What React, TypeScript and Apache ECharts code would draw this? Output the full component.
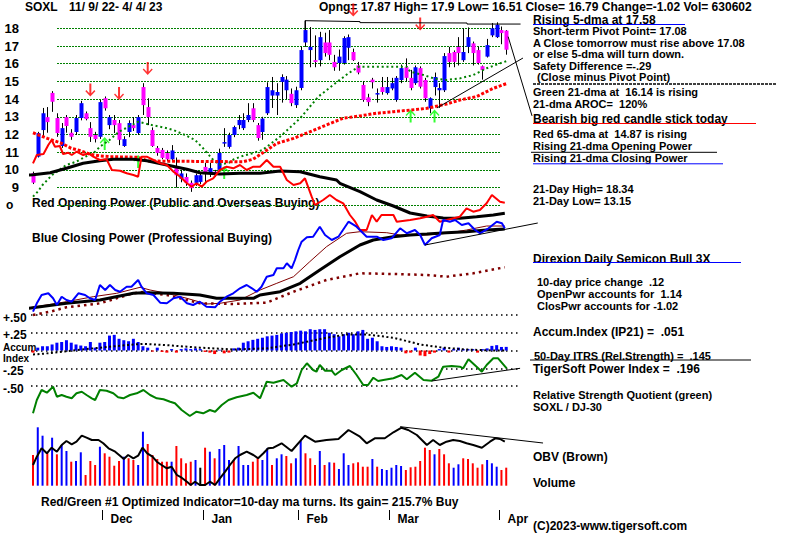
import React, { useEffect, useRef } from "react";
import * as echarts from "echarts";

const FONT = '"Liberation Sans", Arial, Helvetica, sans-serif';

// ---------- price candles (day index 0..99 = 11/9/22 .. 4/4/23) ----------
const openP = [9.82,10.75,12.25,12.98,14.35,12.93,11.35,12.98,12.1,12.14, 12.93,13.2,12.36,11.97,11.87,14.05,12.53,12.82,12.64,11.35, 12.14,12.53,12.08,14.68,13.55,12.25,11.24,11.13,10.95,10.6, 10.17,9.5,9.6,9.27,9.27,9.32,10.17,9.88,9.9,10.0, 11.5,11.3,11.97,12.53,12.36,12.82,13.48,12.53,12.14,13.2, 14.2,14.2,14.97,14.5,14.3,13.66,14.63,17.2,16.77,16.2, 16.2,17.2,17.2,16.1,16.04,16.04,16.9,16.66,15.9,14.8, 14.1,15.1,14.3,14.68,14.34,14.6,13.95,15.08,15.8,15.2, 14.9,15.75,15.08,13.48,14.68,14.5,14.5,16.6,16.66,16.95, 16.2,16.95,17.15,16.77,15.86,16.4,17.6,17.5,17.9,17.87];
const closeP = [9.28,12.08,13.2,12.7,13.85,12.08,12.36,12.48,11.87,12.93, 13.77,12.87,11.87,11.74,13.83,13.48,12.98,12.53,11.7,11.74, 12.65,12.36,12.98,13.66,12.98,11.35,10.96,10.68,10.6,11.1, 9.7,9.8,9.27,8.97,9.7,9.7,9.82,10.1,9.75,10.96, 11.57,11.97,12.42,12.82,12.82,13.1,12.82,11.8,12.9,14.68, 14.5,14.4,15.25,15.1,13.77,14.5,16.77,17.9,16.95,16.1, 17.5,16.6,16.5,15.8,16.4,17.45,17.5,16.2,15.5,13.95, 13.83,14.95,14.34,14.4,14.68,14.9,15.2,15.75,15.2,14.63, 15.8,14.7,14.05,14.05,15.25,14.63,16.43,16.1,16.1,16.6, 16.66,17.5,16.6,16.04,15.64,17.05,18.0,18.2,17.73,16.79];
const highP = [9.9,12.15,13.5,13.55,14.45,13.2,12.65,13.1,12.3,13.1, 13.9,13.3,12.7,12.15,13.95,14.15,13.1,13.1,12.82,11.9, 12.8,12.98,13.1,14.9,14.05,12.4,11.35,11.24,11.1,11.4, 10.7,10.0,9.8,9.4,9.8,9.85,10.4,10.4,10.0,11.2, 12.36,12.1,12.5,13.1,13.2,13.77,13.77,12.65,13.0,14.95, 15.25,14.9,15.4,15.3,14.6,14.7,16.95,18.43,18.07,17.6, 17.8,17.75,17.9,16.5,16.8,17.55,17.65,16.85,16.1,15.0, 14.3,15.2,14.6,15.25,15.25,15.2,15.3,15.95,16.3,15.65, 15.9,15.85,15.2,14.1,15.5,14.9,16.6,16.95,16.75,17.5, 18.0,18.05,17.25,16.95,15.9,17.4,18.3,18.34,18.1,17.9];
const lowP = [9.2,10.7,11.85,12.1,13.28,11.87,11.24,12.1,11.7,11.97, 12.8,12.8,11.58,11.55,11.75,13.35,12.3,12.08,11.4,11.3, 11.85,12.2,11.97,13.1,12.53,11.3,10.8,10.6,10.5,10.5, 9.0,9.3,9.1,8.76,9.1,9.2,9.3,9.6,9.6,9.9, 11.3,11.2,11.85,12.3,12.25,12.7,12.7,11.65,11.7,13.1, 13.5,13.1,13.8,14.0,13.6,13.5,14.5,16.95,15.8,15.8, 15.85,16.4,16.2,15.6,15.6,15.95,16.2,16.15,15.4,13.85, 13.6,14.6,13.8,14.25,14.25,14.5,13.85,14.9,15.0,14.5, 14.8,14.6,13.85,13.2,14.2,13.5,14.4,15.8,15.8,15.9, 16.1,16.6,15.9,15.95,15.1,16.35,17.5,17.45,17.1,16.51];

// ---------- moving averages on price: [day, price] ----------
const ma21 = [[0,8.49],[1,8.77],[2,9.15],[3,9.43],[4,9.71],[5,9.9],[7,10.28],[9,10.46],[11,10.75],[13,11.03],[14,11.31],[16,11.69],[18,12.16],[20,12.44],[22,12.72],[24.9,12.53],[27.3,12.4],[29.4,12.25],[31.8,11.97],[33.9,11.69],[35.6,11.22],[37.7,10.56],[39,10.3],[41,10.4],[42,10.6],[44,10.8],[46,10.95],[48,11.12],[51.7,11.88],[55.9,12.92],[59.7,14.14],[62.8,14.8],[66,15.46],[68.2,15.83],[78.2,15.83],[78.9,15.55],[81.7,15.36],[83.8,15.17],[86.5,15.08],[89.3,15.17],[92.1,15.36],[94.9,15.74],[97.7,16.02],[99,16.14]];
const ma65 = [[0,12.1],[3,11.78],[6,11.5],[8,11.22],[10,11.08],[12,10.88],[14,10.79],[16,10.75],[22,10.71],[24,10.5],[44,10.46],[46,10.6],[48,10.95],[51,11.5],[54.5,11.78],[58,12.16],[61.4,12.54],[64.9,12.92],[68.4,13.05],[71.9,13.2],[75.4,13.29],[78.9,13.38],[82.4,13.48],[86.5,13.72],[89.3,13.95],[92.8,14.14],[96.3,14.61],[99,14.87]];
const redArrows = [[12,14.51],[18,14.32],[24,15.73],[67,19.03],[81,18.24]];
const greenArrows = [[15,11.49],[22,10.47],[40,9.85],[79,13.04],[84,13.04]];
const priceTrend = [[84.5,13.5],[102.5,16.32]];
const pointerLine = [[99.4,17.53],[104.4,13.05]];
const resistance = [[56.9,17.9],[56.9,18.43],[68.4,18.38],[68.4,18.32],[90.8,18.3],[90.8,18.24],[102,18.24]];

// ---------- opening / closing power (index units) ----------
const opPower = [[0,156.7],[0.8,165],[2.2,166],[3.2,175],[3.9,180],[4.6,173.3],[5.6,174],[6.3,166],[7.4,167.3],[8.1,165],[9.1,168.3],[10.5,165],[11.6,166.7],[12.6,163.3],[14,160],[15.4,160.7],[16.5,150],[18.2,149.3],[19.6,146.7],[21,145],[22,143.3],[22.7,163.3],[23.8,163.3],[25.2,160],[26.6,156.7],[28,155],[29.4,148.3],[30.8,143.3],[32.2,136.7],[33.2,133.3],[34.2,136.7],[35.3,133.3],[36.3,138.3],[37.7,141.7],[39.1,150],[40.5,153.3],[41.9,151.7],[43.3,155],[44.7,150],[46.1,153.3],[47.5,153.3],[48.9,160],[50.3,153.3],[51.7,153.3],[53.1,140],[54.5,135],[55.9,136.7],[56.9,141.7],[58.3,123.3],[59,115],[60.7,120],[62.1,125],[63.5,120],[64.9,116.7],[66.3,105],[67.4,98.3],[68.4,90],[69.8,90],[70.9,105],[71.9,98.3],[72.9,105],[75.4,105],[76.1,98.3],[78.9,100],[81,101.7],[82.4,103.3],[83.7,105],[85.1,98.3],[86.5,100],[89.3,103.3],[90.7,111.7],[92.1,108.3],[93.5,110],[94.9,116.7],[96,125],[97.7,118.3],[98.7,117.3]];
const opPowerMa = [[-1,145],[0,145.3],[3.6,147.3],[7,151.7],[10.5,156.7],[14,159.3],[16.8,160.7],[21,160.7],[23.8,159.3],[28,155],[32.2,150.7],[34.9,147.3],[39.1,146],[43.3,146.7],[47.5,146.7],[51.7,149],[55.9,148.3],[60,143.3],[63.5,140],[64.2,136.7],[68.4,128.3],[71.9,120],[75.4,114],[78.9,107],[82.4,104],[85.8,102],[89.3,101.7],[92.8,103.3],[96.3,105],[98.7,106.7]];
const clPower = [[0,8.3],[0.8,16.7],[1.8,25],[3.2,26.7],[4.2,21.7],[5,15],[6,23.3],[7,20],[8.1,18.3],[9.5,26.7],[10.9,25],[11.9,21.7],[13,20],[14,35],[15.1,30],[16.1,35],[17.2,30],[18.2,28.3],[19.6,33.3],[20.6,33.3],[22,40],[22.7,33.3],[23.8,26.7],[25.2,25],[26.6,17.3],[28,16.7],[29.4,21.7],[30.8,23.3],[32.2,16.7],[33.5,15],[34.9,18.3],[36.3,13.3],[38.1,12.7],[39.1,18.3],[40.5,23.3],[41.9,26.7],[43.3,31.7],[44.7,35],[45.8,31.7],[46.8,28.3],[47.8,33.3],[48.9,43.3],[50.3,45],[51,51.7],[52.4,51.7],[53.1,56.7],[54.1,51.7],[54.8,60],[55.5,70],[56.2,78.3],[57.3,82.7],[58.6,83.3],[60,93.3],[61.1,85],[62.5,80],[63.9,83.3],[66,98.3],[67.7,93.3],[69.8,83.3],[71.9,83.3],[73.3,80],[75,81.7],[76.8,91.7],[78.2,86.7],[79.9,90],[81,85],[82,75],[83.4,81.7],[85.1,85],[85.8,100],[87.2,98.3],[88.3,100],[89.7,95],[91.1,96.7],[92.5,90],[93.5,86.7],[95.3,91.7],[97,98.3],[98.1,96.7],[98.7,91.7]];
const clPowerMa65 = [[-1,11.7],[7,16.7],[14,20],[21,26.7],[23.1,27.3],[29.4,26.7],[34.9,25],[38.4,21.7],[41.9,21.7],[46.1,21.7],[47.5,25],[51.7,28.3],[55.9,36.7],[60,50],[64.2,63.3],[68.4,75],[71.2,80],[75.4,83.3],[78.9,85],[82.4,86],[86.5,87.3],[90.7,88.3],[94.9,90],[98.7,91]];
const clPowerMa21 = [[-1,12],[7,18.3],[12.6,23.3],[17.5,26.7],[22.4,32.7],[24.5,30],[28,26.7],[32.2,21.7],[36.3,16],[39.1,16.7],[43.3,20],[47.5,30],[51,36.7],[54.5,43.3],[57.9,58.3],[61.4,73.3],[65.6,86.7],[68.4,88.3],[74,87.3],[76.8,85],[82.4,85],[86.5,86.7],[90.7,90],[94.9,94],[98.7,94]];
const clPowerLong = [[0,5],[3.6,8.3],[7,12.7],[14,16.7],[21,26.7],[23.1,28],[28,25],[32.2,20],[34.9,16.7],[41.9,16],[48.9,17.3],[54.5,28.3],[61.4,40],[68.4,46.7],[75.4,46],[82.4,45],[86.5,43.3],[92.1,46.7],[98.7,52.7]];
const powerTrend = [[82,75],[105.6,97]];

// ---------- accumulation index (IP21) ----------
const accum = [-0.03,0.04,0.06,0.06,0.085,0.11,0.12,0.145,0.11,0.085, 0.07,0.06,0.12,0.04,0.11,0.12,0.21,0.22,0.165,0.145, 0.13,0.165,0.12,0.06,0.04,-0.015,0.04,-0.02,-0.03,0.02, -0.03,0.02,0.03,0.02,0.03,0.02,-0.02,-0.03,-0.05,0.01, -0.04,-0.03,0.03,0.04,0.11,0.13,0.15,0.165,0.18,0.2, 0.21,0.22,0.24,0.25,0.26,0.27,0.28,0.27,0.3,0.29, 0.3,0.3,0.25,0.23,0.2,0.23,0.25,0.23,0.27,0.29, 0.165,0.18,0.13,0.06,0.05,0.06,0.05,0.04,-0.04,-0.03, 0.04,-0.07,-0.08,-0.05,-0.03,0.02,0.04,-0.03,0.02,0.04, 0.02,0.02,0.02,-0.03,0.02,0.03,0.065,0.075,0.05,0.051];
const accumMa = [[0,-0.056],[1.5,-0.05],[7,-0.01],[14,0.04],[21,0.085],[23.1,0.094],[28,0.075],[34.9,0.04],[41.9,0.014],[48.9,0.03],[54.5,0.085],[61.4,0.18],[65.6,0.225],[69.8,0.225],[75.4,0.18],[81,0.085],[85.8,0.04],[90.7,0.014],[96.3,0],[99.1,0]];
const accumTicks: Record<string, string> = { "50": "+.50", "25": "+.25", "0": "{s|Accum}\n{s|Index}", "-25": "-.25", "-50": "-.50" };

// ---------- relative strength quotient ----------
const rsq = [[0,6.7],[0.8,20],[1.8,30],[2.9,27.3],[4.2,33.3],[5,23.3],[6,25],[7,23.3],[8.1,21.7],[9.1,26.7],[10.2,28.3],[11.2,25],[12.3,21.7],[13,20],[14,30],[15.4,29.3],[16.8,26.7],[17.8,22.7],[18.9,21.7],[20.3,25],[21.7,26.7],[23.1,30],[24.5,25],[25.9,21.7],[27.3,20.7],[28.7,18.3],[29.7,16.7],[31.1,10],[32.8,4],[34.2,8.3],[35.6,6.7],[37,10],[38.1,8.3],[39.5,15],[40.9,20],[42.6,22.7],[44.7,25],[46.1,27.3],[47.5,21.7],[48.9,38.3],[50.3,37.3],[52.4,40],[54.1,33.3],[55.2,36.7],[56.2,50],[57.3,56.7],[58.6,50],[59.3,48.3],[60,55],[61.1,49.3],[62.5,49.3],[63.2,45],[64.6,50],[66.3,54],[67.7,45],[69.1,35],[70.1,35],[71.2,42.3],[72.2,39],[73.3,40],[75.4,41.7],[77.1,45],[78.2,40.7],[79.9,47.3],[81.7,40],[83.4,39.3],[84.8,43.3],[85.8,53.3],[87.6,54],[89.3,53.3],[90,51.7],[91.1,60.7],[92.8,53.3],[93.9,48.3],[94.9,55],[96.3,61.7],[97.3,61.7],[99.1,51.7]];
const rsqTrend = [[83.4,39],[101.9,51.7]];

// ---------- volume (thousands) and OBV ----------
const volume = [1075,2044,1750,1134,1680,1099,1425,1215,840,865, 1169,375,865,725,1365,1134,1015,700,865,1015, 959,900,725,1890,1460,1075,935,840,840,840, 1390,959,784,840,900,630,1330,1190,959,1285, 1425,900,900,1390,725,725,840,980,900,1309, 725,959,1099,1040,784,959,1565,1134,959,725, 1215,725,819,805,585,1134,725,784,819,665, 665,935,665,585,550,630,725,690,550,644, 665,865,1330,1250,1099,1285,1099,784,630,749, 959,935,784,630,749,900,784,665,550,631];
const volDir = "RBBRBRBBRBBRRRBRRRRBRRBBRRRRRBRRRRBKRBRBBBRBBBRRBBRBBRRBBRRRBRBRBBBRRRRBRBBBBBRRRRRRBRRRBBRRRRRBBBRR";
const obv = [[0,25],[0.8,33.3],[1.8,41.7],[2.9,36.7],[3.9,42.3],[5,38.3],[6,45],[7,49],[8.1,45.7],[9.1,48.3],[10.2,54.3],[11.2,52.3],[12.3,50],[13.7,50],[14.7,46.7],[15.8,41.7],[17.2,38.3],[18.2,34.3],[19,31],[19.9,35],[21,31.7],[22,34.3],[22.9,42.3],[23.9,36.7],[25,33.3],[25.9,28.3],[26.9,25],[28,21.7],[29,23.3],[30.1,15],[31.1,12.3],[32.2,8.3],[33,5],[33.9,8.3],[34.9,5],[36,5],[37,8.3],[38.1,5],[39.1,11.7],[40.2,18.3],[41.2,25],[42.3,31.7],[43.3,35],[44.7,38.3],[46.1,35],[47.1,31.7],[48.2,36.7],[49.2,41.7],[50.3,42.3],[52,46.7],[54.1,39],[56.9,54.3],[59,48.3],[61.4,50],[63.9,51],[66,60],[68.4,53.3],[69.8,46.7],[71.5,51.7],[73.6,51.7],[75.4,57.7],[77.1,62.3],[78.5,60],[80.3,55],[82.4,45],[83.7,50],[85.1,45],[86.5,48.3],[87.9,50],[89.3,49],[90.7,46.7],[92.1,45],[93.9,42.3],[95.6,48.3],[96.7,51.7],[97.7,51],[98.7,48.3]];
const obvTrend = [[76.8,63.3],[106.7,47]];

// ---------- months ----------
const monthLabels = ["Dec", "Jan", "Feb", "Mar", "Apr"];
const monthStartIdx = [15, 36, 56, 75, 98];

// ---------- right-hand / caption texts: [x, y, text, fontSize] ----------
const texts: [number, number, string, number][] = [
  [25, 7, "SOXL", 12],
  [69, 7, "11/ 9/ 22- 4/ 4/ 23", 12],
  [319, 7, "Opng= 17.87 High= 17.9 Low= 16.51 Close= 16.79 Change=-1.02 Vol= 630602", 12],
  [533, 19.5, "Rising 5-dma at 17.58", 12],
  [533, 31, "Short-term Pivot Point= 17.08", 11],
  [533, 42.5, "A Close tomorrow must rise above 17.08", 11],
  [533, 54, "or else 5-dma will turn down.", 11],
  [533, 65.5, "Safety Difference =-.29", 11],
  [537, 77, "(Close minus Pivot Point)", 11],
  [533, 91.5, "Green 21-dma at  16.14 is rising", 11],
  [533, 103.5, "21-dma AROC=  120%", 11],
  [533, 119, "Bearish big red candle stick today", 12],
  [533, 133.5, "Red 65-dma at  14.87 is rising", 11],
  [533, 145.5, "Rising 21-dma Opening Power", 11],
  [533, 157.5, "Rising 21-dma Closing Power", 11],
  [533, 188.5, "21-Day High= 18.34", 11],
  [533, 200.5, "21-Day Low= 13.15", 11],
  [533, 258.5, "Direxion Daily Semicon Bull 3X", 12],
  [537, 282, "10-day price change  .12", 11],
  [537, 294, "OpenPwr accounts for  1.14", 11],
  [537, 306, "ClosPwr accounts for -1.02", 11],
  [533, 331.5, "Accum.Index (IP21) =  .051", 12],
  [534, 355.5, "50-Day ITRS (Rel.Strength) =  .145", 11],
  [533, 368.5, "TigerSoft Power Index =  .196", 12],
  [533, 394.5, "Relative Strength Quotient (green)", 11],
  [533, 407, "SOXL / DJ-30", 11],
  [533, 457, "OBV (Brown)", 12],
  [533, 483, "Volume", 12],
  [533, 526, "(C)2023-www.tigersoft.com", 12],
  [32, 203, "Red Opening Power (Public and Overseas Buying)", 12],
  [32, 238, "Blue Closing Power (Professional Buying)", 12],
  [41, 502, "Red/Green #1 Optimized Indicator=10-day ma turns. Its gain= 215.7% Buy", 12],
  [6, 205, "o", 12],
];
const underlines: [number, number, number, string][] = [
  [533, 685, 24.5, "#0000ff"],
  [533, 756, 123.5, "#ff0000"],
  [531, 717, 152.3, "#000000"],
  [533, 723, 163.8, "#0000ff"],
  [533, 741, 262.5, "#0000ff"],
  [530, 751, 360, "#000000"],
];
const separator = { x1: 533, x2: 777, y: 84 };

const DOWN_ARROW = "path://M4,0L6,0L6,9L9,6L10,7L5,12L0,7L1,6L4,9Z";
const UP_ARROW = "path://M4,12L6,12L6,3L9,6L10,5L5,0L0,5L1,6L4,3Z";

function lineSeries(data: number[][], g: number, color: string, width: number, type: any = "solid", extra: any = {}) {
  return {
    type: "line",
    xAxisIndex: g,
    yAxisIndex: g,
    data,
    symbol: "none",
    showSymbol: false,
    silent: true,
    clip: false,
    lineStyle: { color, width, type },
    ...extra,
  };
}

function buildOption(): any {
  const XMIN = -0.5, XMAX = 110.5;
  const L = 30.6, W = 530.6;
  const grids = [
    { left: L, top: 28.3, width: W, height: 177 }, // 0 price
    { left: 57, top: 28.3, width: 443, height: 177 }, // 1 price grid lines
    { left: L, top: 130, width: W, height: 190 }, // 2 power
    { left: L, top: 315, width: W, height: 71 }, // 3 accum
    { left: 30, top: 315, width: 488, height: 71 }, // 4 accum grid lines
    { left: L, top: 350, width: W, height: 70 }, // 5 rsq
    { left: L, top: 425, width: W, height: 60.7 }, // 6 volume
    { left: L, top: 420, width: W, height: 70 }, // 7 obv
    { left: L, top: 510, width: W, height: 10 }, // 8 months
  ];
  const xAxis = grids.map((_, g) => ({ type: "value", gridIndex: g, min: XMIN, max: XMAX, show: false }));
  const hiddenY = (g: number, min: number, max: number) => ({ type: "value", gridIndex: g, min, max, show: false });
  const yAxis = [
    hiddenY(0, 8, 18),
    {
      type: "value", gridIndex: 1, min: 8, max: 18, interval: 1,
      axisLine: { show: false }, axisTick: { show: false },
      splitLine: { show: true, lineStyle: { color: "#008000", width: 1, type: [2, 1] } },
      axisLabel: {
        show: true, margin: 38, color: "#000", fontSize: 13, fontWeight: "bold", fontFamily: FONT,
        padding: [5, 0, 0, 0], formatter: (v: number) => (v === 8 ? "" : String(v)),
      },
    },
    hiddenY(2, 0, 190),
    hiddenY(3, -0.5, 0.5),
    {
      type: "value", gridIndex: 4, min: -0.5, max: 0.5, interval: 0.25,
      axisLine: { show: false }, axisTick: { show: false },
      splitLine: { show: true, lineStyle: { color: "#000", width: 1.5, type: [1.5, 3.5] } },
      axisLabel: {
        show: true, margin: 28, align: "left", color: "#000", fontSize: 12, fontWeight: "bold", fontFamily: FONT,
        padding: [5, 0, 0, 0],
        formatter: (v: number) => accumTicks[String(Math.round(v * 100))] ?? "",
        rich: { s: { fontSize: 10, fontWeight: "bold", fontFamily: FONT, lineHeight: 11.5, color: "#000" } },
      },
    },
    hiddenY(5, 0, 70),
    hiddenY(6, 0, 2124.5),
    hiddenY(7, 0, 70),
    hiddenY(8, 0, 1),
  ];

  const candles = openP.map((o, i) => [i, o, closeP[i], lowP[i], highP[i]]);

  const series: any[] = [
    {
      type: "custom", xAxisIndex: 0, yAxisIndex: 0, silent: true, data: candles,
      encode: { x: 0, y: [1, 2, 3, 4] },
      renderItem: (params: any, api: any) => {
        const i = api.value(0), o = api.value(1), c = api.value(2), l = api.value(3), h = api.value(4);
        const pH = api.coord([i, h]), pL = api.coord([i, l]);
        const pO = api.coord([i, o]), pC = api.coord([i, c]);
        const top = Math.min(pO[1], pC[1]);
        const bot = Math.max(pO[1], pC[1]);
        const x = Math.round(pH[0]) + 0.5;
        return {
          type: "group",
          children: [
            { type: "line", shape: { x1: x, y1: pH[1], x2: x, y2: pL[1] }, style: { stroke: "#000", lineWidth: 1 } },
            { type: "rect", shape: { x: x - 2, y: top, width: 4, height: Math.max(bot - top, 1.5) }, style: { fill: c >= o ? "#0000ff" : "#ff00ff" } },
          ],
        };
      },
    },
    lineSeries(ma21, 0, "#008000", 2, [2, 2.8]),
    lineSeries(ma65, 0, "#ff0000", 3, [3, 1.8]),
    lineSeries(priceTrend, 0, "#000", 1),
    lineSeries(pointerLine, 0, "#000", 1),
    lineSeries(resistance, 0, "#000", 1),
    { type: "scatter", xAxisIndex: 0, yAxisIndex: 0, data: redArrows, symbol: DOWN_ARROW, symbolSize: [10, 13], itemStyle: { color: "#ff0000" }, silent: true, clip: false },
    { type: "scatter", xAxisIndex: 0, yAxisIndex: 0, data: greenArrows, symbol: UP_ARROW, symbolSize: [10, 13], itemStyle: { color: "#00ff00" }, silent: true, clip: false },

    lineSeries(clPowerLong, 2, "#800000", 2.5, [2.5, 4]),
    lineSeries(clPowerMa21, 2, "#800000", 1),
    lineSeries(clPowerMa65, 2, "#000", 3),
    lineSeries(opPowerMa, 2, "#000", 3),
    lineSeries(opPower, 2, "#ff0000", 2),
    lineSeries(clPower, 2, "#0000ff", 2),
    lineSeries(powerTrend, 2, "#000", 1),

    {
      type: "bar", xAxisIndex: 3, yAxisIndex: 3, silent: true, barWidth: 3,
      data: accum.map((v, i) => [i, v]),
      itemStyle: { color: (p: any) => (p.value[1] >= 0 ? "#0000ff" : "#ff0000") },
    },
    lineSeries(accumMa, 3, "#000", 2, [2, 2.5]),

    lineSeries(rsq, 5, "#008000", 2),
    lineSeries(rsqTrend, 5, "#000", 1),

    {
      type: "bar", xAxisIndex: 6, yAxisIndex: 6, silent: true, barWidth: 2,
      data: volume.map((v, i) => [i, v]),
      itemStyle: {
        color: (p: any) => {
          const d = volDir[p.dataIndex];
          return d === "B" ? "#0000ff" : d === "R" ? "#ff0000" : "#000000";
        },
      },
    },
    lineSeries(obv, 7, "#000", 2),
    lineSeries(obvTrend, 7, "#000", 1),

    {
      type: "custom", xAxisIndex: 8, yAxisIndex: 8, silent: true,
      data: monthStartIdx.map((d, k) => [d, k]),
      renderItem: (params: any, api: any) => {
        const d = api.value(0), k = api.value(1);
        const pT = api.coord([d - 0.5, 1]);
        const pB = api.coord([d - 0.5, 0]);
        const x = Math.round(pT[0]) + 0.5;
        return {
          type: "group",
          children: [
            { type: "line", shape: { x1: x, y1: pT[1], x2: x, y2: pB[1] }, style: { stroke: "#000", lineWidth: 1 } },
            {
              type: "text", x: x + 8, y: pT[1] + 9,
              style: { text: monthLabels[k], fill: "#000", fontSize: 12, fontWeight: "bold", fontFamily: FONT, verticalAlign: "middle", align: "left", lineHeight: 9 },
            },
          ],
        };
      },
    },
  ];

  const graphic: any[] = [
    ...texts.map(([x, y, text, size]) => ({
      type: "text", x, y, silent: true,
      style: { text, fill: "#000", fontSize: size, fontWeight: "bold", fontFamily: FONT, verticalAlign: "middle", align: "left", lineHeight: size - 2 },
    })),
    ...underlines.map(([x1, x2, y, color]) => ({
      type: "line", silent: true, shape: { x1, y1: y, x2, y2: y }, style: { stroke: color, lineWidth: 1 },
    })),
    {
      type: "line", silent: true,
      shape: { x1: separator.x1, y1: separator.y, x2: separator.x2, y2: separator.y },
      style: { stroke: "#000", lineWidth: 1.5, lineDash: [3, 1] },
    },
  ];

  return {
    animation: false,
    backgroundColor: "#ffffff",
    grid: grids,
    xAxis,
    yAxis,
    series,
    graphic,
  };
}

export default function App() {
  const ref = useRef<HTMLDivElement>(null);
  useEffect(() => {
    if (!ref.current) return;
    const chart = echarts.init(ref.current, undefined, { renderer: "svg" });
    chart.setOption(buildOption());
    return () => chart.dispose();
  }, []);
  return (
    <div
      ref={ref}
      style={{ position: "fixed", left: 0, top: 0, width: 800, height: 534, background: "#fff" }}
    />
  );
}
